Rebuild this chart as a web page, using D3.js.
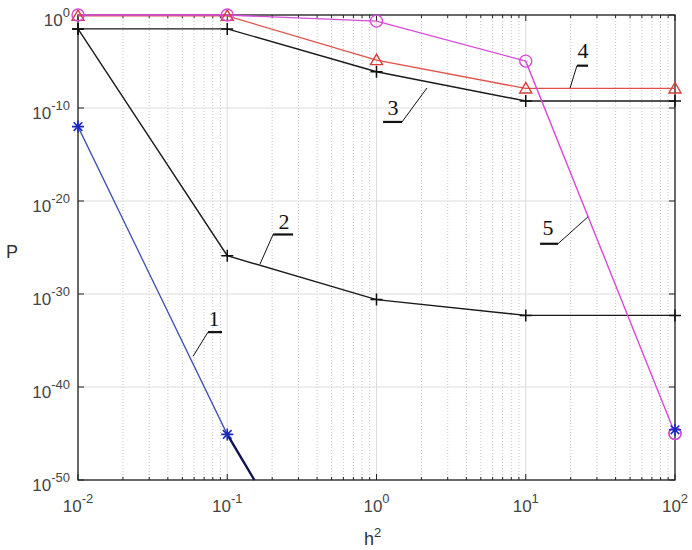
<!DOCTYPE html>
<html><head><meta charset="utf-8">
<script src="https://cdn.jsdelivr.net/npm/d3@7"></script>
<style>body{margin:0;background:#fff}svg{display:block}</style>
</head><body>
<script>
// ---- data ----
const h2 = [0.01, 0.1, 1, 10, 100];
const xTickExp = [-2, -1, 0, 1, 2];
const yTickExp = [0, -10, -20, -30, -40, -50];
const series1 = [1e-12, 8e-46];              // at h2[0], h2[1]
const series1TailH2 = [0.1, 0.152];
const series1TailP = [8e-46, 1e-50];
const series1ExtraH2 = [100];
const series1ExtraP = [2.5e-45];
const series2 = [3.2e-2, 1.3e-26, 2.5e-31, 5e-33, 5e-33];
const series3 = [3.2e-2, 3.2e-2, 8e-7, 5.6e-10, 5.6e-10];
const series4 = [0.8, 0.8, 1.4e-5, 1.26e-8, 1.26e-8];
const series5 = [1, 1, 0.22, 1.1e-5, 1e-45];
const annoLabels = ["1", "2", "3", "4", "5"];

// ---- layout ----
const W = 692, H = 550;
const L = 78, R = 675, T = 15, B = 480;
const svg = d3.select("body").append("svg").attr("width", W).attr("height", H);
const x = d3.scaleLog().domain([0.01, 100]).range([L, R]);
const y = d3.scaleLog().domain([1e-50, 1]).range([B, T]);

// plot background
svg.append("rect").attr("x", L).attr("y", T).attr("width", R - L).attr("height", B - T).attr("fill", "#fff");

// grid
const g = svg.append("g");
const minorX = [];
xTickExp.slice(0, -1).forEach(e => { for (let k = 2; k <= 9; k++) minorX.push(k * Math.pow(10, e)); });
g.selectAll(".mx").data(minorX).enter().append("line")
  .attr("x1", d => x(d)).attr("x2", d => x(d)).attr("y1", T).attr("y2", B)
  .attr("stroke", "#b8b8b8").attr("stroke-width", 0.8).attr("stroke-dasharray", "1,2");
g.selectAll(".Mx").data(xTickExp.map(e => Math.pow(10, e))).enter().append("line")
  .attr("x1", d => x(d)).attr("x2", d => x(d)).attr("y1", T).attr("y2", B)
  .attr("stroke", "#dcdcdc").attr("stroke-width", 1);
g.selectAll(".My").data(yTickExp.map(e => Math.pow(10, e))).enter().append("line")
  .attr("x1", L).attr("x2", R).attr("y1", d => y(d)).attr("y2", d => y(d))
  .attr("stroke", "#dcdcdc").attr("stroke-width", 1);

// axes box with inward ticks
const ax = svg.append("g").attr("stroke", "#222").attr("fill", "none");
ax.append("rect").attr("x", L).attr("y", T).attr("width", R - L).attr("height", B - T).attr("stroke-width", 1.3);
minorX.forEach(d => {
  ax.append("line").attr("x1", x(d)).attr("x2", x(d)).attr("y1", B).attr("y2", B - 3);
  ax.append("line").attr("x1", x(d)).attr("x2", x(d)).attr("y1", T).attr("y2", T + 3);
});
xTickExp.forEach(e => {
  const d = Math.pow(10, e);
  ax.append("line").attr("x1", x(d)).attr("x2", x(d)).attr("y1", B).attr("y2", B - 6);
  ax.append("line").attr("x1", x(d)).attr("x2", x(d)).attr("y1", T).attr("y2", T + 6);
});
yTickExp.forEach(e => {
  const d = Math.pow(10, e);
  ax.append("line").attr("x1", L).attr("x2", L + 6).attr("y1", y(d)).attr("y2", y(d));
  ax.append("line").attr("x1", R).attr("x2", R - 6).attr("y1", y(d)).attr("y2", y(d));
});

// tick labels
const tickFont = "'Liberation Sans', Arial, sans-serif";
xTickExp.forEach(e => {
  const t = svg.append("text").attr("x", x(Math.pow(10, e))).attr("y", 512)
    .attr("text-anchor", "middle").attr("font-family", tickFont).attr("fill", "#444");
  t.append("tspan").attr("font-size", 17).text("10");
  t.append("tspan").attr("font-size", 13).attr("dy", -9).text(String(e));
});
yTickExp.forEach(e => {
  const t = svg.append("text").attr("x", 70).attr("y", y(Math.pow(10, e)) + 11)
    .attr("text-anchor", "end").attr("font-family", tickFont).attr("fill", "#444");
  t.append("tspan").attr("font-size", 17).text("10");
  t.append("tspan").attr("font-size", 13).attr("dy", -9).text(String(e));
});
// axis titles
svg.append("text").attr("x", 6).attr("y", 258).attr("font-family", tickFont).attr("font-size", 18).attr("fill", "#333").text("P");
const xt = svg.append("text").attr("x", 364).attr("y", 545).attr("font-family", tickFont).attr("fill", "#333");
xt.append("tspan").attr("font-size", 18).text("h");
xt.append("tspan").attr("font-size", 13).attr("dy", -8).text("2");

// lines
const line = d3.line().x(d => x(d[0])).y(d => y(d[1]));
const zip = (xs, ys) => ys.map((v, i) => [xs[i], v]);
const plot = svg.append("g");
function drawLine(pts, color, w) {
  plot.append("path").datum(pts).attr("d", line).attr("fill", "none").attr("stroke", color).attr("stroke-width", w);
}
drawLine(zip(h2, series2), "#1a1a1a", 1.4);
drawLine(zip(h2, series3), "#1a1a1a", 1.4);
drawLine(zip(h2, series4), "#e0504a", 1.3);
drawLine(zip(h2, series5), "#d84ad8", 1.4);
drawLine(zip(h2, series1), "#4050b0", 1.3);
drawLine(zip(series1TailH2, series1TailP), "#101050", 2.4);

// markers
function plus(pts, color, s) {
  pts.forEach(p => {
    const cx = x(p[0]), cy = y(p[1]);
    plot.append("path").attr("d", `M${cx - s},${cy}H${cx + s}M${cx},${cy - s}V${cy + s}`).attr("stroke", color).attr("stroke-width", 1.5);
  });
}
function star(pts, color, s) {
  pts.forEach(p => {
    const cx = x(p[0]), cy = y(p[1]), k = s * 0.72;
    plot.append("path").attr("d", `M${cx - s},${cy}H${cx + s}M${cx},${cy - s}V${cy + s}M${cx - k},${cy - k}L${cx + k},${cy + k}M${cx - k},${cy + k}L${cx + k},${cy - k}`)
      .attr("stroke", color).attr("stroke-width", 1.6);
  });
}
function tri(pts, color, s) {
  pts.forEach(p => {
    const cx = x(p[0]), cy = y(p[1]);
    plot.append("path").attr("d", `M${cx},${cy - s}L${cx + s},${cy + s * 0.75}L${cx - s},${cy + s * 0.75}Z`)
      .attr("fill", "none").attr("stroke", color).attr("stroke-width", 1.4);
  });
}
function circ(pts, color, r) {
  pts.forEach(p => {
    plot.append("circle").attr("cx", x(p[0])).attr("cy", y(p[1])).attr("r", r)
      .attr("fill", "none").attr("stroke", color).attr("stroke-width", 1.4);
  });
}
plus(zip(h2, series2), "#111", 6);
plus(zip(h2, series3), "#111", 6);
tri(zip(h2, series4), "#d8403c", 6);
circ(zip(h2, series5), "#d84ad8", 6);
star(zip(h2, series1), "#1a2ac0", 6);
circ(zip(series1ExtraH2, [series5[4]]), "#d84ad8", 6);
star(zip(series1ExtraH2, series1ExtraP), "#1a2ac0", 6);

// annotations: label position and leader target in data coords (log10 h2, log10 P)
const annos = [
  { t: annoLabels[0], tx: -1.089, ty: -33.45, bar: [-1.129, -1.035, -34.1], from: [-1.129, -34.1], to: [-1.229, -36.7] },
  { t: annoLabels[1], tx: -0.620, ty: -23.0, bar: [-0.693, -0.559, -23.6], from: [-0.693, -23.6], to: [-0.781, -26.8] },
  { t: annoLabels[2], tx: 0.110, ty: -10.75, bar: [0.044, 0.171, -11.5], from: [0.171, -11.5], to: [0.338, -7.85] },
  { t: annoLabels[3], tx: 1.384, ty: -4.62, bar: [1.343, 1.417, -5.45], from: [1.343, -5.45], to: [1.297, -7.85] },
  { t: annoLabels[4], tx: 1.149, ty: -23.66, bar: [1.096, 1.216, -24.6], from: [1.216, -24.6], to: [1.417, -21.7] }
];
const P = (lx, ly) => [x(Math.pow(10, lx)), y(Math.pow(10, ly))];
const an = svg.append("g");
annos.forEach(a => {
  const [tx, ty] = P(a.tx, a.ty);
  an.append("text").attr("x", tx).attr("y", ty).attr("text-anchor", "middle")
    .attr("font-family", "'Liberation Serif', 'Times New Roman', serif").attr("font-size", 22).attr("fill", "#111").text(a.t);
  const [b1, by] = P(a.bar[0], a.bar[2]); const [b2] = P(a.bar[1], a.bar[2]);
  an.append("line").attr("x1", b1).attr("x2", b2).attr("y1", by).attr("y2", by).attr("stroke", "#111").attr("stroke-width", 2.2);
  const f = P(a.from[0], a.from[1]), tt = P(a.to[0], a.to[1]);
  an.append("line").attr("x1", f[0]).attr("y1", f[1]).attr("x2", tt[0]).attr("y2", tt[1]).attr("stroke", "#111").attr("stroke-width", 1);
});
</script>
</body></html>
